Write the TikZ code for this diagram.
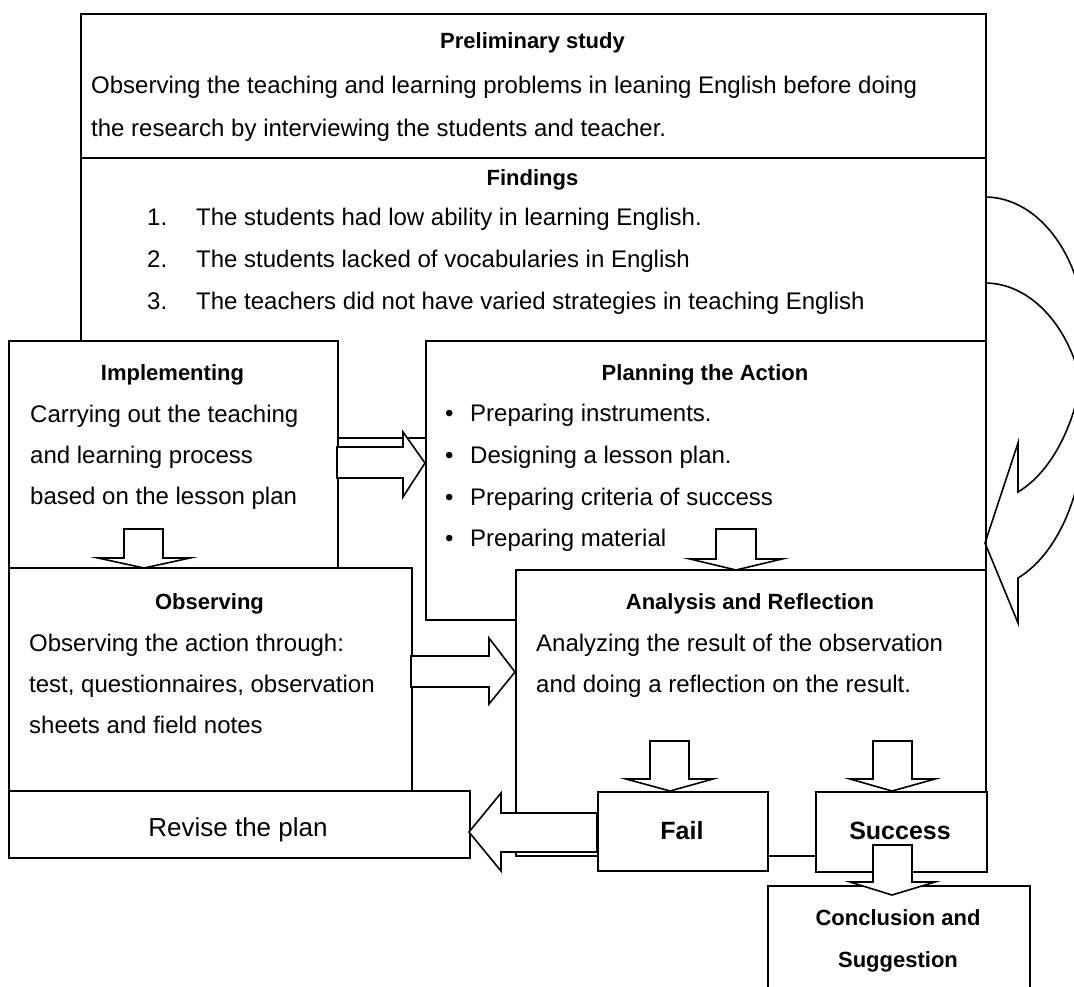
\documentclass[tikz,border=0pt]{standalone}
\usepackage{fontspec}
\setmainfont{Liberation Sans}
\begin{document}
\begin{tikzpicture}[x=1pt,y=-1pt,
  box/.style={draw, fill=white, line width=1.6pt, inner sep=0pt, anchor=north west},
  body/.style={inner sep=0pt, anchor=west, text height=17.2pt, text depth=0pt,
    font=\fontsize{24}{28}\selectfont},
  title/.style={inner sep=0pt, text height=15.8pt, text depth=0pt,
    font=\fontsize{22}{26}\selectfont\bfseries},
  result/.style={inner sep=0pt, text height=17.9pt, text depth=0pt,
    font=\fontsize{25}{29}\selectfont\bfseries},
  blockarrow/.style={draw, fill=white, line width=1.6pt, line join=miter},
  curvearrow/.style={draw, line width=1.6pt, line join=miter}
]
\clip (0,0) rectangle (1074,986);
\fill[white] (0,0) rectangle (1074,986);

% ---------- boxes ----------
\node[box, minimum width=905pt, minimum height=144pt] (pre)  at (80,13) {};
\node[box, minimum width=905pt, minimum height=280pt] (find) at (80,157) {};
\node[box, minimum width=329pt, minimum height=227pt] (impl) at (8,340) {};
\node[box, minimum width=560pt, minimum height=279pt] (plan) at (425,340) {};
\node[box, minimum width=403pt, minimum height=223pt] (obs)  at (8,567) {};
\node[box, minimum width=470pt, minimum height=286pt] (ana)  at (515,569) {};
\node[box, minimum width=461pt, minimum height=67pt]  (rev)  at (8,790) {};
\node[box, minimum width=170pt, minimum height=79pt]  (fail) at (597,791) {};
\node[box, minimum width=171pt, minimum height=80pt]  (succ) at (815,791) {};
\node[box, minimum width=262pt, minimum height=130pt] (conc) at (767,885) {};

% ---------- preliminary study ----------
\node[title] (preT) at (532.5,41) {Preliminary study};
\node[body] (preA) at (91,85) {Observing the teaching and learning problems in leaning English before doing};
\node[body] (preB) at (91,128) {the research by interviewing the students and teacher.};

% ---------- findings ----------
\node[title] (findT) at (532.5,178) {Findings};
\node[body] (n1) at (147,217) {1.};
\node[body] (n2) at (147,259) {2.};
\node[body] (n3) at (147,301) {3.};
\node[body] (f1) at (196,217) {The students had low ability in learning English.};
\node[body] (f2) at (196,259) {The students lacked of vocabularies in English};
\node[body] (f3) at (196,301) {The teachers did not have varied strategies in teaching English};

% ---------- implementing ----------
\node[title] (implT) at (172.5,373) {Implementing};
\node[body] (implA) at (30,414) {Carrying out the teaching};
\node[body] (implB) at (30,455) {and learning process};
\node[body] (implC) at (30,496) {based on the lesson plan};

% ---------- planning ----------
\node[title] (planT) at (705,373) {Planning the Action};
\node[body] (b1) at (445,413) {•};
\node[body] (b2) at (445,455) {•};
\node[body] (b3) at (445,497) {•};
\node[body] (b4) at (445,538) {•};
\node[body] (p1) at (470,413) {Preparing instruments.};
\node[body] (p2) at (470,455) {Designing a lesson plan.};
\node[body] (p3) at (470,497) {Preparing criteria of success};
\node[body] (p4) at (470,538) {Preparing material};

% ---------- observing ----------
\node[title] (obsT) at (209.5,602) {Observing};
\node[body] (obsA) at (29,643) {Observing the action through:};
\node[body] (obsB) at (29,684) {test, questionnaires, observation};
\node[body] (obsC) at (29,725) {sheets and field notes};

% ---------- analysis ----------
\node[title] (anaT) at (750,602) {Analysis and Reflection};
\node[body] (anaA) at (536,643) {Analyzing the result of the observation};
\node[body] (anaB) at (536,684) {and doing a reflection on the result.};

% ---------- outcomes ----------
\node[inner sep=0pt, text height=18.6pt, text depth=0pt, font=\fontsize{26}{30}\selectfont]
  (revT) at (238,827) {Revise the plan};
\node[result] (failT) at (682,831) {Fail};
\node[result] (succT) at (900,831) {Success};
\node[title] (concA) at (898,918) {Conclusion and};
\node[title] (concB) at (898,960) {Suggestion};

% ---------- block arrows ----------
% implementing -> planning
\draw[blockarrow] (337,447) -- (403,447) -- (403,432) -- (425,463) -- (403,497) -- (403,478) -- (337,478) -- cycle;
% observing -> analysis
\draw[blockarrow] (411,656) -- (489,656) -- (489,638) -- (515,672) -- (489,704) -- (489,687) -- (411,687) -- cycle;
% implementing -> observing
\draw[blockarrow] (124,529) -- (163,529) -- (163,558) -- (190,558) -- (144,568) -- (98,558) -- (124,558) -- cycle;
% planning -> analysis
\draw[blockarrow] (716,529) -- (756,529) -- (756,559) -- (782,559) -- (736,570) -- (690,559) -- (716,559) -- cycle;
% analysis -> fail
\draw[blockarrow] (650,741) -- (689,741) -- (689,779) -- (713,779) -- (670,791) -- (626,779) -- (650,779) -- cycle;
% analysis -> success
\draw[blockarrow] (873,741) -- (912,741) -- (912,779) -- (935,779) -- (892,791) -- (850,779) -- (873,779) -- cycle;
% fail -> revise the plan
\draw[blockarrow] (597,813) -- (501,813) -- (501,793) -- (469,832) -- (501,871) -- (501,852) -- (597,852) -- cycle;
% success -> conclusion
\draw[blockarrow] (873,845) -- (912,845) -- (912,882) -- (935,882) -- (892,895) -- (850,882) -- (873,882) -- cycle;

% ---------- curved return arrow ----------
\draw[curvearrow] (985,197) .. controls (1040,197) and (1085,260) .. (1085,335)
  .. controls (1085,405) and (1058,468) .. (1018,492)
  -- (1018,443) -- (985,543) -- (1018,623) -- (1018,578)
  .. controls (1058,554) and (1085,491) .. (1085,421)
  .. controls (1085,346) and (1040,283) .. (985,283);
\end{tikzpicture}
\end{document}
